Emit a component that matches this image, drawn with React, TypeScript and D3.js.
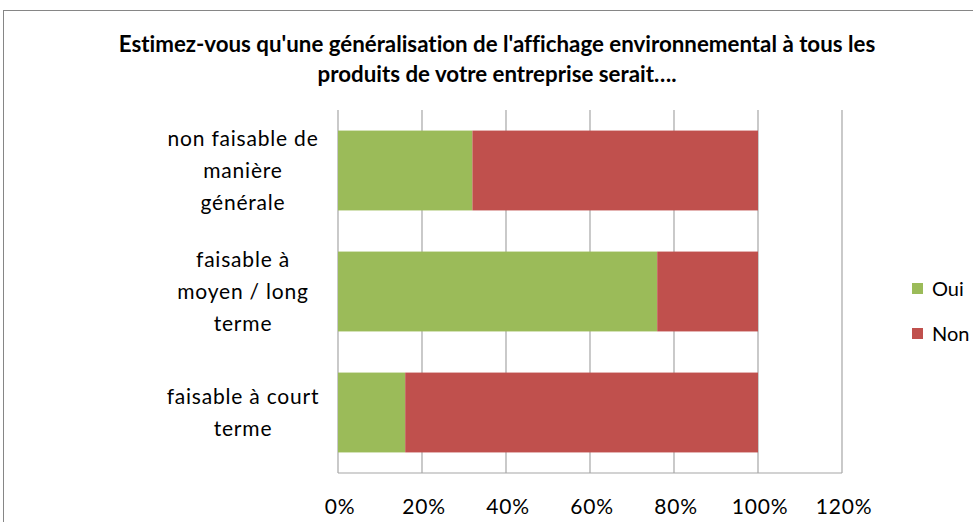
import React from 'react';
import * as d3 from 'd3';

const categories = ['non faisable de manière générale', 'faisable à moyen / long terme', 'faisable à court terme'];
const categoryLines = [
  ['non faisable de', 'manière', 'générale'],
  ['faisable à', 'moyen / long', 'terme'],
  ['faisable à court', 'terme'],
];
const oui = [0.32, 0.76, 0.16];
const non = [0.68, 0.24, 0.84];
const xTicks = [0, 0.2, 0.4, 0.6, 0.8, 1.0, 1.2];
const seriesNames = ['Oui', 'Non'];
const seriesColors = ['#9bbb59', '#c0504d'];

const width = 973;
const height = 522;
const font = 'Lato, Calibri, "Open Sans", sans-serif';

const App = () => {
  const x = d3.scaleLinear().domain([0, 1.2]).range([338, 842]);
  const y = d3.scaleBand().domain(categories).range([110, 473]).paddingInner(0.34).paddingOuter(0.17);
  const fmt = d3.format('.0%');

  return (
    <svg width={width} height={height} style={{ position: 'absolute', left: 0, top: 0, background: '#fff', fontVariantLigatures: 'none' }}>
      <rect x={3.5} y={10.5} width={width + 10} height={height + 10} fill="#fff" stroke="#868686" strokeWidth={1} />
      <text x={497} y={52} textAnchor="middle" fontFamily={font} fontWeight="bold" fontSize={22.3} fill="#000">
        Estimez-vous qu'une généralisation de l'affichage environnemental à tous les
      </text>
      <text x={497} y={82} textAnchor="middle" fontFamily={font} fontWeight="bold" fontSize={22.3} fill="#000">
        produits de votre entreprise serait….
      </text>

      {xTicks.map((t) => (
        <line key={t} x1={x(t)} x2={x(t)} y1={110} y2={473} stroke="#a6a6a6" strokeWidth={1.2} />
      ))}
      <line x1={x(0)} x2={x(1.2)} y1={473} y2={473} stroke="#a6a6a6" strokeWidth={1.2} />

      {categories.map((c, i) => (
        <g key={c}>
          <rect x={x(0)} y={y(c)} width={x(oui[i]) - x(0)} height={y.bandwidth()} fill={seriesColors[0]} />
          <rect x={x(oui[i])} y={y(c)} width={x(oui[i] + non[i]) - x(oui[i])} height={y.bandwidth()} fill={seriesColors[1]} />
        </g>
      ))}

      {categories.map((c, i) => {
        const lines = categoryLines[i];
        const cy = (y(c) as number) + y.bandwidth() / 2;
        const lh = 32;
        const start = cy - ((lines.length - 1) * lh) / 2;
        return (
          <text key={c} textAnchor="middle" fontFamily={font} fontSize={21} letterSpacing={0.8} fill="#000">
            {lines.map((l, j) => (
              <tspan key={j} x={243} y={start + j * lh + 7}>{l}</tspan>
            ))}
          </text>
        );
      })}

      {xTicks.map((t) => (
        <text key={t} x={x(t) + 2} y={514} textAnchor="middle" fontFamily={font} fontSize={21} letterSpacing={0.8} fill="#000">
          {fmt(t)}
        </text>
      ))}

      {seriesNames.map((s, i) => (
        <g key={s}>
          <rect x={912} y={283 + i * 45} width={11} height={11} fill={seriesColors[i]} />
          <text x={932} y={296 + i * 45} fontFamily={font} fontSize={20} fill="#000">{s}</text>
        </g>
      ))}
    </svg>
  );
};

export default App;
